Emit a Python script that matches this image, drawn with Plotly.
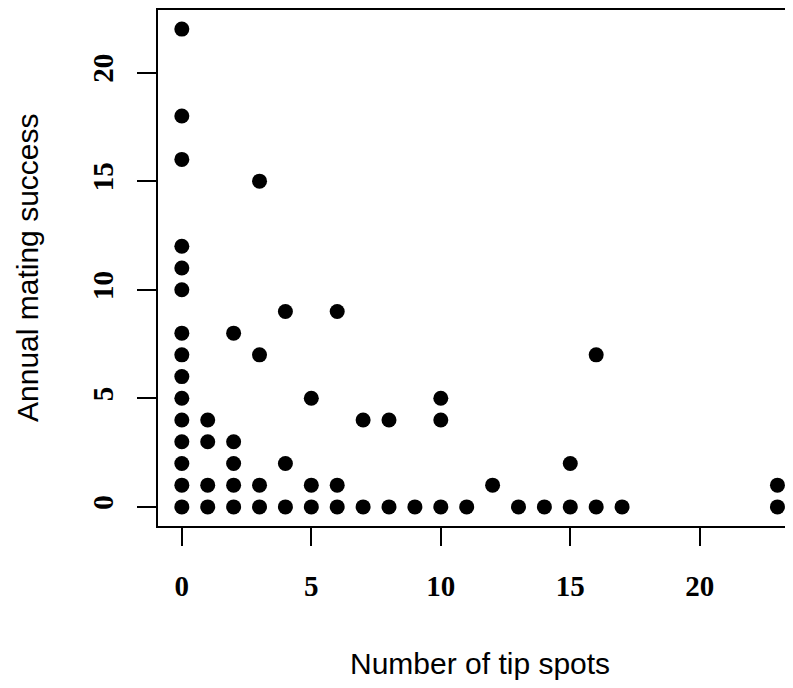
import plotly.graph_objects as go

tip_spots = [0]*15 + [1]*4 + [2]*5 + [3]*4 + [4]*3 + [5]*3 + [6]*3 + [7]*2 + [8]*2 + [9] + [10]*3 + [11] + [12] + [13] + [14] + [15]*2 + [16]*2 + [17] + [23]*2
mating = ([22, 18, 16, 12, 11, 10, 8, 7, 6, 5, 4, 3, 2, 1, 0]
          + [4, 3, 1, 0]
          + [8, 3, 2, 1, 0]
          + [15, 7, 1, 0]
          + [9, 2, 0]
          + [5, 1, 0]
          + [9, 1, 0]
          + [4, 0]
          + [4, 0]
          + [0]
          + [5, 4, 0]
          + [0]
          + [1]
          + [0]
          + [0]
          + [2, 0]
          + [7, 0]
          + [0]
          + [1, 0])

x_ticks = [0, 5, 10, 15, 20]
y_ticks = [0, 5, 10, 15, 20]
x_title = "Number of tip spots"
y_title = "Annual mating success"

# page body has an 8px margin; compensate so the plot lands where the reference has it
W, H = 785, 680
L, T, B = 150, 2, 162
PB = H - B  # plot bottom in figure px

fig = go.Figure(go.Scatter(
    x=tip_spots, y=mating, mode="markers",
    marker=dict(color="black", size=15, line=dict(width=0)),
    hoverinfo="skip", cliponaxis=False,
))

tick_font = dict(family="Liberation Serif", size=29, color="black", weight="bold")
title_font = dict(family="Liberation Sans", size=30, color="black")

fig.update_layout(
    width=W, height=H,
    margin=dict(l=L, r=0, t=T, b=B, pad=0),
    paper_bgcolor="white", plot_bgcolor="white",
    showlegend=False,
    xaxis=dict(
        range=[-0.92, 23.6], tickvals=x_ticks, ticktext=[str(v) for v in x_ticks],
        showgrid=False, zeroline=False, showline=True, linecolor="black", linewidth=1.5,
        mirror=True, ticks="outside", ticklen=18, tickwidth=1.5, tickcolor="black",
        tickfont=tick_font, ticklabelstandoff=15,
    ),
    yaxis=dict(
        range=[-0.88, 22.88], tickvals=y_ticks, ticktext=[str(v) for v in y_ticks],
        showgrid=False, zeroline=False, showline=True, linecolor="black", linewidth=1.5,
        mirror=False, ticks="outside", ticklen=19, tickwidth=1.5, tickcolor="black",
        tickfont=tick_font, tickangle=-90, ticklabelstandoff=13,
    ),
    annotations=[
        dict(text=x_title, xref="paper", yref="paper", x=(472 - L) / (W - L), y=0,
             xanchor="center", yanchor="middle", yshift=-(655 - PB), showarrow=False,
             font=title_font),
        dict(text=y_title, xref="paper", yref="paper", x=0, y=0.5,
             xanchor="center", yanchor="middle", xshift=-(L - 19), textangle=-90, showarrow=False,
             font=title_font),
    ],
)

fig.write_html("out.html")
